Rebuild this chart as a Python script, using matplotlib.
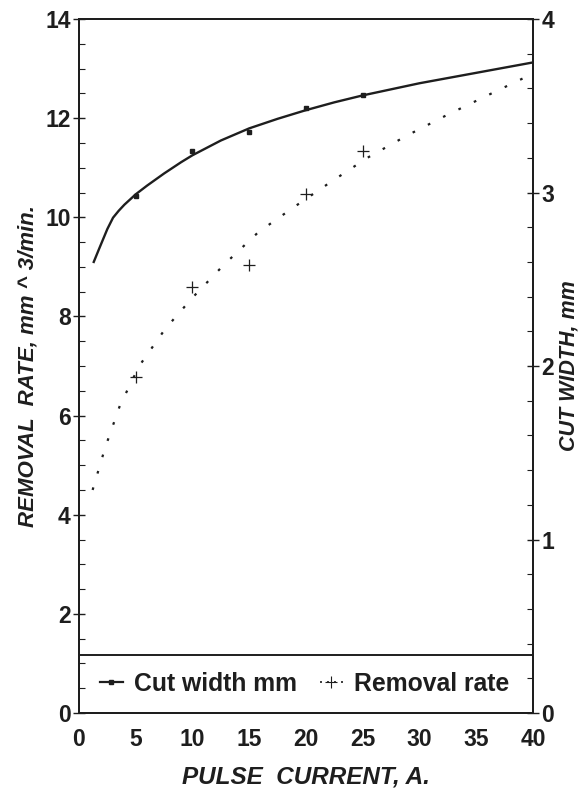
import matplotlib.pyplot as plt
from matplotlib.lines import Line2D
from matplotlib.ticker import MultipleLocator

plt.rcParams['font.family'] = ['Liberation Sans', 'DejaVu Sans']

# --------------------------------
# DATA
# --------------------------------

# cut width, fitted curve (right axis)
cw_curve_x = [1.3, 1.8, 2.5, 3, 3.5, 4, 5, 6, 7.5, 9, 10, 12.5, 15, 17.5,
              20, 22.5, 25, 30, 35, 40]
cw_curve_y = [2.60, 2.68, 2.79, 2.855, 2.895, 2.93, 2.99, 3.04, 3.11, 3.175, 3.215,
              3.30, 3.37, 3.425, 3.475, 3.52, 3.56, 3.63, 3.69, 3.75]

# cut width, measured points
cw_pts_x = [5, 10, 15, 20, 25]
cw_pts_y = [2.98, 3.24, 3.35, 3.49, 3.56]

# removal rate, fitted curve (left axis)
rr_curve_x = [1.2, 2.3, 3.6, 5.3, 7.6, 10, 12.8, 15.8, 18.9, 22.1, 25.4, 28.9,
              32.3, 35.9, 40]
rr_curve_y = [4.5, 5.35, 6.2, 7.0, 7.75, 8.38, 9.05, 9.7, 10.2, 10.7, 11.2,
              11.65, 12.05, 12.45, 12.9]

# removal rate, measured points
rr_pts_x = [5, 10, 15, 20, 25]
rr_pts_y = [6.77, 8.59, 9.03, 10.48, 11.33]

x_ticks = [0, 5, 10, 15, 20, 25, 30, 35, 40]
left_ticks = [0, 2, 4, 6, 8, 10, 12, 14]
right_ticks = [0, 1, 2, 3, 4]

legend_top = 1.17  # in removal-rate units

ink = "#1e1e1e"

# --------------------------------
# PLOT
# --------------------------------

fig = plt.figure(figsize=(5.86, 7.94), dpi=100)
ax = fig.add_axes([0.1348, 0.102, 0.7747, 0.874])
ax2 = ax.twinx()

ax.plot(rr_curve_x, rr_curve_y, color=ink, lw=1.6, linestyle=(0, (1.2, 6.5)))
ax.plot(rr_pts_x, rr_pts_y, linestyle="none", marker="+", ms=8, mew=0.9, color=ink)

ax2.plot(cw_curve_x, cw_curve_y, color=ink, lw=1.7)
ax2.plot(cw_pts_x, cw_pts_y, linestyle="none", marker="s", ms=3.2, color=ink)

ax.set_xlim(0, 40)
ax.set_ylim(0, 14)
ax2.set_ylim(0, 4)

ax.set_xticks(x_ticks)
ax.set_yticks(left_ticks)
ax2.set_yticks(right_ticks)
ax.yaxis.set_minor_locator(MultipleLocator(0.5))
ax2.yaxis.set_minor_locator(MultipleLocator(0.2))

ax.tick_params(axis="x", length=0, pad=11, labelsize=16.5, colors=ink)
for a in (ax, ax2):
    a.tick_params(axis="y", which="major", direction="inout", length=8, width=1,
                  pad=2, labelsize=16.5, colors=ink)
    a.tick_params(axis="y", which="minor", direction="in", length=4.5, width=0.8,
                  colors=ink)

for a in (ax, ax2):
    for lbl in a.get_xticklabels() + a.get_yticklabels():
        lbl.set_fontweight("bold")
    for s in a.spines.values():
        s.set_linewidth(1.4)
        s.set_color(ink)

ax.set_xlabel("PULSE  CURRENT, A.", fontsize=17.5, fontweight="bold",
              fontstyle="italic", labelpad=10, color=ink)
ax.set_ylabel("REMOVAL  RATE, mm ^ 3/min.", fontsize=16, fontweight="bold",
              fontstyle="italic", labelpad=5, color=ink)
ax2.set_ylabel("CUT WIDTH, mm", fontsize=15.5, fontweight="bold",
               fontstyle="italic", labelpad=3, color=ink)

# legend box across the bottom of the axes
ax.axhline(legend_top, color=ink, lw=1.4)
handles = [
    Line2D([], [], color=ink, lw=1.6, marker="s", ms=2.5, markevery=[1]),
    Line2D([], [], color=ink, lw=1.2, linestyle=(0, (1.2, 3)), marker="+",
           ms=8, mew=0.8, markevery=[1]),
]
leg = ax2.legend(handles, ["Cut width mm", "Removal rate"], loc="center",
                 bbox_to_anchor=(0.497, legend_top / 2 / 14), ncol=2, frameon=False,
                 handlelength=0.95, handletextpad=0.45, columnspacing=0.9,
                 borderaxespad=0, prop={"size": 17.8, "weight": "bold"})
for t in leg.get_texts():
    t.set_color(ink)

fig.savefig("out.png", dpi=100, facecolor="white")
